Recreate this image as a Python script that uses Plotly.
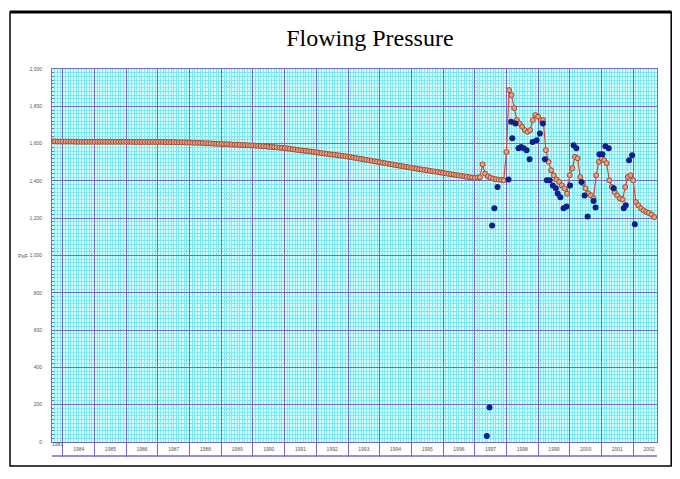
import plotly.graph_objects as go
import pandas as pd

# ---------------- data ----------------
calc_start = "1983-09-01"   # first monthly calculated point
calc_psi = [
    1612, 1612, 1611, 1611,
    1611, 1611, 1611, 1611, 1611, 1610, 1610, 1610, 1610, 1610, 1610, 1610,
    1610, 1610, 1610, 1610, 1610, 1610, 1610, 1610, 1610, 1610, 1610, 1610,
    1610, 1610, 1610, 1609, 1609, 1609, 1609, 1609, 1609, 1609, 1609, 1609,
    1609, 1609, 1609, 1608, 1608, 1608, 1608, 1607, 1607, 1607, 1607, 1606,
    1606, 1605, 1605, 1604, 1604, 1603, 1602, 1602, 1601, 1600, 1599, 1599,
    1598, 1597, 1597, 1596, 1595, 1594, 1594, 1593, 1592, 1592, 1591, 1590,
    1590, 1589, 1588, 1587, 1586, 1585, 1583, 1582, 1581, 1580, 1578, 1577,
    1576, 1574, 1572, 1570, 1568, 1566, 1564, 1562, 1561, 1559, 1557, 1555,
    1553, 1551, 1549, 1547, 1545, 1543, 1541, 1540, 1538, 1536, 1534, 1532,
    1530, 1528, 1525, 1523, 1520, 1518, 1515, 1513, 1510, 1508, 1505, 1503,
    1500, 1498, 1495, 1493, 1490, 1488, 1485, 1483, 1480, 1478, 1475, 1473,
    1470, 1468, 1466, 1463, 1461, 1459, 1457, 1454, 1452, 1450, 1448, 1445,
    1443, 1441, 1438, 1436, 1434, 1431, 1429, 1427, 1425, 1422, 1420, 1418,
    1416, 1418, 1420, 1489, 1439, 1425, 1418, 1412, 1409, 1407, 1406, 1403,
    1555, 1887, 1860, 1790, 1726, 1708, 1690, 1672, 1663, 1672, 1726, 1753,
    1744, 1726, 1726, 1565, 1502, 1457, 1430, 1408, 1394, 1376, 1360, 1331,
    1430, 1468, 1529, 1521, 1421, 1387, 1360, 1333, 1322, 1306, 1430, 1502,
    1521, 1511, 1495, 1403, 1367, 1340, 1322, 1306, 1300, 1367, 1421, 1430,
    1403, 1287, 1269, 1253, 1242, 1233, 1228, 1220, 1206,
]

meas_dates = [
    "1997-05-20", "1997-06-20", "1997-07-20", "1997-08-15", "1997-09-20",
    "1998-01-25", "1998-02-25", "1998-03-10", "1998-04-15", "1998-05-20",
    "1998-06-20", "1998-07-20", "1998-08-22", "1998-09-25", "1998-10-30",
    "1998-12-15", "1999-01-22", "1999-02-25", "1999-03-20", "1999-04-12",
    "1999-05-15", "1999-06-20", "1999-07-25", "1999-08-15", "1999-09-15",
    "1999-10-22", "1999-11-25", "2000-01-05", "2000-02-15", "2000-03-17",
    "2000-05-15", "2000-06-20", "2000-07-25", "2000-10-01", "2000-10-25",
    "2000-12-08", "2001-01-12", "2001-02-15", "2001-03-25", "2001-05-22",
    "2001-09-15", "2001-10-08", "2001-11-15", "2001-12-20", "2002-01-20",
]
meas_psi = [
    32, 185, 1161, 1253, 1367,
    1408, 1717, 1629, 1708, 1575,
    1582, 1575, 1565, 1516, 1609,
    1618, 1654, 1708, 1516, 1403,
    1403, 1376, 1360, 1333, 1313,
    1253, 1263, 1376, 1591, 1575,
    1394, 1322, 1209, 1292, 1258,
    1543, 1543, 1586, 1575, 1360,
    1253, 1269, 1511, 1538, 1167,
]

x_range = ["1983-08-29", "2002-10-03"]
y_range = [0, 2000]
first_partial_year_label = "1983"
first_partial_year_pos = "1983-10-30"

# ---------------- figure ----------------
calc_dates = pd.date_range(calc_start, periods=len(calc_psi), freq="MS")

fig = go.Figure()
fig.add_trace(go.Scatter(
    x=calc_dates, y=calc_psi, mode="lines+markers",
    line=dict(color="#d9483a", width=1.2),
    marker=dict(size=5, color="#eea080", line=dict(color="#9c4a34", width=1)),
    showlegend=False,
))
fig.add_trace(go.Scatter(
    x=meas_dates, y=meas_psi, mode="markers",
    marker=dict(size=6, color="#0c1f8f"),
    showlegend=False,
))

major = "#7468c8"
minor = "#7fe8f0"
fig.update_xaxes(
    type="date", range=x_range,
    tick0="1984-01-01", dtick="M12", tickformat="%Y",
    ticklabelmode="period",
    ticks="outside", ticklen=14, tickcolor=major, tickwidth=1,
    ticklabelstandoff=-12,
    tickfont=dict(size=5, color="#555555", family="Arial"),
    showgrid=True, gridcolor=major, gridwidth=1,
    minor=dict(dtick="M1", showgrid=True, gridcolor=minor, gridwidth=1),
    showline=True, linecolor=major, linewidth=1, mirror=True,
    zeroline=False,
)
fig.update_yaxes(
    range=y_range, dtick=200, tickformat=",",
    tickfont=dict(size=5, color="#555555", family="Arial"),
    ticks="", ticklabelstandoff=8,
    showgrid=True, gridcolor=major, gridwidth=1,
    minor=dict(dtick=20, showgrid=True, gridcolor=minor, gridwidth=1,
               ticks="inside", ticklen=2, tickcolor=major),
    showline=True, linecolor=major, linewidth=1, mirror=True,
    zeroline=False,
)

# label box bottom line
fig.add_shape(type="line", xref="paper", yref="paper", x0=0, x1=1,
              y0=-0.0375, y1=-0.0375, line=dict(color=major, width=1.5))
# outer frame
fig.add_shape(type="rect", xref="paper", yref="paper",
              x0=-0.0694, x1=1.0235, y0=-0.0643, y1=1.1528,
              line=dict(color="black", width=1.5))
fig.add_shape(type="line", xref="paper", yref="paper",
              x0=-0.0694, x1=1.0235, y0=1.1528, y1=1.1528,
              line=dict(color="black", width=3))

fig.add_annotation(x=first_partial_year_pos, y=-0.019, xref="x", yref="paper",
                   text=first_partial_year_label, showarrow=False,
                   font=dict(size=5, color="#555555", family="Arial"))
fig.add_annotation(x=-0.037, y=1000, xref="paper", yref="y", xanchor="right",
                   text="PsiF", showarrow=False,
                   font=dict(size=5, color="#555555", family="Arial"))

# the page body adds an 8px offset, so the figure is sized/margined to compensate
fig.update_layout(
    width=664, height=463,
    margin=dict(l=44, r=15, t=61, b=29),
    paper_bgcolor="white", plot_bgcolor="#d2ffff",
    title=dict(text="Flowing Pressure", x=0.545, xanchor="center",
               y=0.935, yanchor="middle",
               font=dict(family="Liberation Serif", size=24, color="black")),
)

fig.write_html("out.html")
